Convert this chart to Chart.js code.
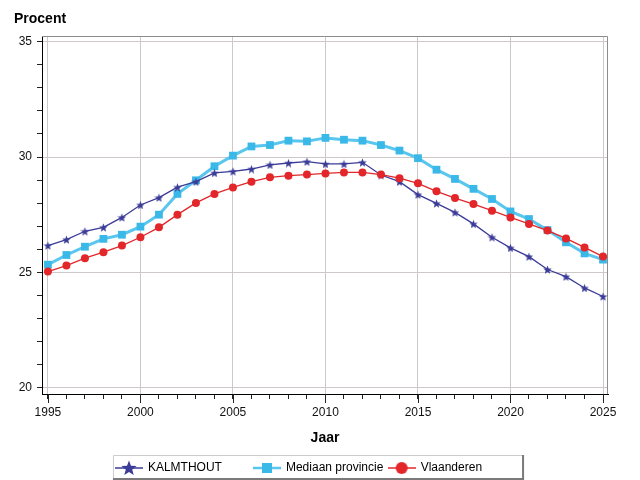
<!DOCTYPE html>
<html>
<head>
<meta charset="utf-8">
<script src="https://cdn.jsdelivr.net/npm/chart.js@4"></script>
<style>
html, body { margin: 0; padding: 0; background: #fff; }
</style>
</head>
<body>
<canvas id="chart" width="640" height="480"></canvas>
<script>
// DATA
const years = [1995, 1996, 1997, 1998, 1999, 2000, 2001, 2002, 2003, 2004,
               2005, 2006, 2007, 2008, 2009, 2010, 2011, 2012, 2013, 2014,
               2015, 2016, 2017, 2018, 2019, 2020, 2021, 2022, 2023, 2024, 2025];
const kalmthout = [26.16, 26.42, 26.78, 26.95, 27.38, 27.92, 28.24, 28.69, 28.93, 29.31,
                   29.38, 29.48, 29.66, 29.74, 29.80, 29.70, 29.70, 29.77, 29.22, 28.93,
                   28.37, 27.99, 27.60, 27.10, 26.52, 26.06, 25.68, 25.12, 24.81, 24.32, 23.95];
const mediaan = [25.33, 25.75, 26.11, 26.45, 26.63, 26.98, 27.50, 28.40, 28.99, 29.60,
                 30.06, 30.46, 30.52, 30.71, 30.68, 30.83, 30.75, 30.71, 30.52, 30.28,
                 29.95, 29.45, 29.05, 28.62, 28.18, 27.64, 27.31, 26.83, 26.30, 25.82, 25.55];
const vlaanderen = [25.03, 25.29, 25.61, 25.87, 26.16, 26.52, 26.95, 27.50, 28.01, 28.40,
                    28.68, 28.93, 29.12, 29.19, 29.24, 29.29, 29.33, 29.33, 29.24, 29.08,
                    28.86, 28.51, 28.22, 27.96, 27.67, 27.38, 27.10, 26.81, 26.47, 26.08, 25.68];
const xLabelTicks = [1995, 2000, 2005, 2010, 2015, 2020, 2025];
const yLabelTicks = [20, 25, 30, 35];
const seriesNames = ["KALMTHOUT", "Mediaan provincie", "Vlaanderen"];

// KLEUREN
const navy = "#3b3b98";
const cyan = "#58c6ee";
const red = "#e2262a";
const gridColor = "#cfc8c8";
const font = "'Liberation Sans', Arial, sans-serif";

// MARKERS
function starPath(c, cx, cy, R, r) {
    c.beginPath();
    for (let i = 0; i < 10; i++) {
        const rad = i % 2 === 0 ? R : r;
        const a = -Math.PI / 2 + i * Math.PI / 5;
        c.lineTo(cx + rad * Math.cos(a), cy + rad * Math.sin(a));
    }
    c.closePath();
}

function makeStar(size) {
    const cv = document.createElement("canvas");
    cv.width = size; cv.height = size;
    const c = cv.getContext("2d");
    c.fillStyle = navy;
    starPath(c, size / 2, size / 2 + 0.5, size / 2, size / 4.6);
    c.fill();
    return cv;
}

function legendSymbol(kind) {
    const cv = document.createElement("canvas");
    cv.width = 28; cv.height = 16;
    const c = cv.getContext("2d");
    const col = kind === 0 ? navy : kind === 1 ? cyan : red;
    c.strokeStyle = col;
    c.lineWidth = kind === 1 ? 2.5 : 1.5;
    c.beginPath(); c.moveTo(0, 8); c.lineTo(28, 8); c.stroke();
    c.fillStyle = kind === 1 ? "#3ab8e8" : col;
    if (kind === 0) {
        starPath(c, 14, 8.5, 8, 3.4);
        c.fill();
    } else if (kind === 1) {
        c.fillRect(9, 3, 10, 10);
    } else {
        c.beginPath(); c.arc(14, 8, 6, 0, Math.PI * 2); c.fill();
    }
    return cv;
}

const starImg = makeStar(9);
const symbols = [legendSymbol(0), legendSymbol(1), legendSymbol(2)];
const trailing = ["         ", " ", "   "];

function points(vals) {
    return years.map((y, i) => ({ x: y, y: vals[i] }));
}

// PLUGIN: titel, kader, lange tickstreepjes en legendakader
const decor = {
    id: "decor",
    beforeDatasetsDraw(chart) {
        const c = chart.ctx;
        const a = chart.chartArea;
        c.save();
        c.strokeStyle = "#8c8c8c";
        c.lineWidth = 1;
        c.beginPath();
        c.moveTo(a.left, a.top + 0.5);
        c.lineTo(a.right - 0.5, a.top + 0.5);
        c.lineTo(a.right - 0.5, a.bottom);
        c.stroke();
        c.restore();
    },
    afterDraw(chart) {
        const c = chart.ctx;
        const xs = chart.scales.x;
        c.save();
        c.strokeStyle = "#222";
        c.lineWidth = 1;
        xLabelTicks.forEach(v => {
            const px = Math.round(xs.getPixelForValue(v)) + 0.5;
            c.beginPath();
            c.moveTo(px, xs.top);
            c.lineTo(px, xs.top + 9);
            c.stroke();
        });

        c.fillStyle = "#000";
        c.font = "bold 14px " + font;
        c.textBaseline = "alphabetic";
        c.fillText("Procent", 14, 23);

        const boxes = chart.legend.legendHitBoxes;
        if (boxes && boxes.length) {
            const first = boxes[0];
            const last = boxes[boxes.length - 1];
            const l = first.left - 3;
            const r = last.left + last.width + 30;
            const t = chart.legend.top - 5;
            const b = chart.legend.bottom - 6;
            c.strokeStyle = "#cccccc";
            c.beginPath();
            c.moveTo(l + 0.5, b);
            c.lineTo(l + 0.5, t + 0.5);
            c.lineTo(r, t + 0.5);
            c.stroke();
            c.fillStyle = "#7a7a7a";
            c.fillRect(r, t, 2, b - t + 2);
            c.fillRect(l, b, r - l + 2, 2);
        }
        c.restore();
    }
};

const chart = new Chart(document.getElementById("chart"), {
    type: "line",
    data: {
        datasets: [
            {
                label: seriesNames[0],
                data: points(kalmthout),
                borderColor: navy,
                backgroundColor: navy,
                borderWidth: 1.3,
                pointStyle: starImg,
                order: 1
            },
            {
                label: seriesNames[1],
                data: points(mediaan),
                borderColor: cyan,
                backgroundColor: "#3ab8e8",
                borderWidth: 3,
                pointStyle: "rect",
                pointRadius: 5.5,
                pointBorderWidth: 0,
                order: 2
            },
            {
                label: seriesNames[2],
                data: points(vlaanderen),
                borderColor: red,
                backgroundColor: red,
                borderWidth: 1.3,
                pointStyle: "circle",
                pointRadius: 4,
                pointBorderWidth: 0,
                order: 0
            }
        ]
    },
    options: {
        responsive: false,
        devicePixelRatio: 1,
        animation: false,
        layout: { padding: { top: 36, left: 0, right: 32, bottom: -4 } },
        plugins: {
            tooltip: { enabled: false },
            title: { display: false },
            legend: {
                position: "bottom",
                labels: {
                    usePointStyle: true,
                    pointStyleWidth: 26,
                    padding: 2,
                    color: "#111",
                    font: { family: font, size: 12 },
                    generateLabels: () => seriesNames.map((n, i) => ({
                        text: n + trailing[i],
                        pointStyle: symbols[i],
                        fillStyle: "transparent",
                        strokeStyle: "transparent",
                        lineWidth: 0,
                        datasetIndex: i,
                        hidden: false
                    }))
                }
            }
        },
        scales: {
            x: {
                type: "linear",
                min: 1994.68,
                max: 2025.27,
                afterBuildTicks: (s) => {
                    s.ticks = years.map(v => ({ value: v }));
                },
                afterFit: (s) => { s.height = 66; },
                ticks: {
                    autoSkip: false,
                    maxRotation: 0,
                    padding: 6,
                    color: "#111",
                    font: { family: font, size: 12 },
                    callback: (v) => xLabelTicks.includes(v) ? String(v) : ""
                },
                grid: {
                    color: (ctx) => ctx.tick && xLabelTicks.includes(ctx.tick.value) ? gridColor : "transparent",
                    tickColor: "#222",
                    tickLength: 5
                },
                border: { color: "#000", width: 1 },
                title: {
                    display: true,
                    text: "Jaar",
                    color: "#000",
                    font: { family: font, size: 14, weight: "bold" },
                    padding: { top: 2, bottom: 13 }
                }
            },
            y: {
                min: 19.72,
                max: 35.25,
                afterBuildTicks: (s) => {
                    const t = [];
                    for (let v = yLabelTicks[0]; v <= yLabelTicks[yLabelTicks.length - 1]; v++) t.push({ value: v });
                    s.ticks = t;
                },
                afterFit: (s) => { s.width = 42; },
                ticks: {
                    autoSkip: false,
                    padding: 5,
                    color: "#111",
                    font: { family: font, size: 12 },
                    callback: (v) => yLabelTicks.includes(v) ? String(v) : ""
                },
                grid: {
                    color: (ctx) => ctx.tick && yLabelTicks.includes(ctx.tick.value) ? gridColor : "transparent",
                    tickColor: "#222",
                    tickLength: 5
                },
                border: { color: "#000", width: 1 }
            }
        }
    },
    plugins: [decor]
});
</script>
</body>
</html>
